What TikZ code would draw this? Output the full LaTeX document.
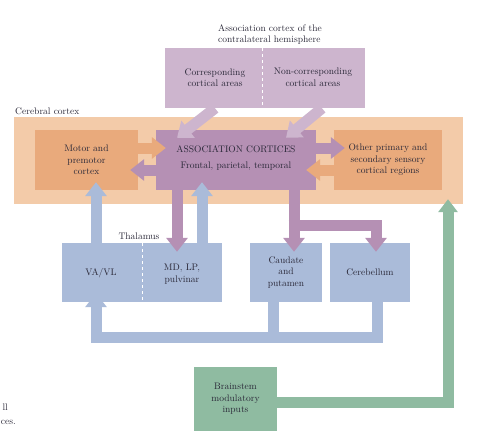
\documentclass[tikz,border=0pt]{standalone}
\usetikzlibrary{arrows.meta}
\definecolor{cortexbg}{HTML}{F3CBA9}
\definecolor{orangebox}{HTML}{E9AA7C}
\definecolor{assocbox}{HTML}{B590B4}
\definecolor{contrabox}{HTML}{CDB5CE}
\definecolor{bluebox}{HTML}{AABBD9}
\definecolor{greenbox}{HTML}{8FBBA1}
\definecolor{ink}{HTML}{2A2838}
\tikzset{
  box/.style={rectangle, inner sep=0pt, align=center, text=ink,
    font=\fontsize{9.5}{11.5}\selectfont},
  fat/.style={line width=11pt, -{Triangle[length=14pt,width=21pt]}},
  label/.style={text=ink, font=\fontsize{9.5}{11.5}\selectfont, inner sep=0pt}
}
\begin{document}
\begin{tikzpicture}[x=1pt,y=-1pt]
  \useasboundingbox (0,0) rectangle (480,431);

  \node[box, fill=cortexbg, minimum width=449pt, minimum height=87pt] (cortex) at (238.5,160.5) {};
  \node[label, anchor=south west] (cortexlbl) at (15,115) {Cerebral cortex};

  \node[box, fill=orangebox, minimum width=103pt, minimum height=60pt] (motor) at (86.5,160) {Motor and\\premotor\\cortex};
  \node[box, fill=assocbox, minimum width=160pt, minimum height=60pt] (assoc) at (236,160) {};
  \node[label] (assoctitle) at (236,149) {ASSOCIATION CORTICES};
  \node[label] (assocsub) at (236,166) {Frontal, parietal, temporal};
  \node[box, fill=orangebox, minimum width=108pt, minimum height=60pt] (other) at (388,160) {Other primary and\\secondary sensory\\cortical regions};

  \node[box, fill=contrabox, minimum width=200pt, minimum height=60pt] (contra) at (265,78) {};
  \draw[white, dashed, line width=0.8pt] (contra.north) ++(-3,0) -- ++(0,60);
  \node[label, align=center] (corr) at (215,77.5) {Corresponding\\cortical areas};
  \node[label, align=center] (noncorr) at (313,77.5) {Non-corresponding\\cortical areas};
  \node[label, align=left] (contralbl) at (270,34.5) {Association cortex of the\\contralateral hemisphere};

  \node[box, fill=bluebox, minimum width=160pt, minimum height=59pt] (thal) at (142,272.5) {};
  \draw[white, dashed, line width=0.8pt] (thal.north) -- (thal.south);
  \node[label] (vavl) at (101,273) {VA/VL};
  \node[label, align=center] (mdlp) at (182,274) {MD, LP,\\pulvinar};
  \node[label, anchor=south] (thallbl) at (139,240) {Thalamus};
  \node[box, fill=bluebox, minimum width=72pt, minimum height=59pt] (caudate) at (286,272.5) {Caudate\\and\\putamen};
  \node[box, fill=bluebox, minimum width=80pt, minimum height=59pt] (cereb) at (370,272.5) {Cerebellum};

  \node[box, fill=greenbox, minimum width=83pt, minimum height=64pt] (brainstem) at (235.5,399) {Brainstem\\modulatory\\inputs};

  \node[label, anchor=east] (capa) at (8,407) {ll};
  \node[label, anchor=east] (capb) at (16,422) {ces.};

  % cortex to cortex
  \draw[fat, orangebox] ([yshift=12pt]motor.east) -- ([yshift=12pt,xshift=10pt]assoc.west);
  \draw[fat, assocbox] ([yshift=-10pt]assoc.west) -- ([yshift=-10pt,xshift=-8pt]motor.east);
  \draw[fat, assocbox] ([yshift=12pt]assoc.east) -- ([yshift=12pt,xshift=11pt]other.west);
  \draw[fat, orangebox] ([yshift=-10pt]other.east -| other.west) -- ([yshift=-10pt,xshift=-10pt]assoc.east);

  % contralateral
  \draw[fat, contrabox] ([xshift=-50pt]contra.south) -- ([xshift=-59pt,yshift=-8pt]assoc.north);
  \draw[fat, contrabox] ([xshift=57pt]contra.south) -- ([xshift=50pt,yshift=-8pt]assoc.north);

  % thalamus up
  \draw[fat, bluebox] ([xshift=-46pt]thal.north) -- ([xshift=9.5pt,yshift=8pt]motor.south);
  \draw[fat, bluebox] ([xshift=60pt]thal.north) -- ([xshift=-34pt,yshift=8pt]assoc.south);

  % association down
  \draw[fat, assocbox] ([xshift=-59pt]assoc.south) -- ([xshift=35pt,yshift=-9pt]thal.north);
  \draw[fat, assocbox] ([xshift=58pt]assoc.south) -- ([xshift=8pt,yshift=-9pt]caudate.north);
  \coordinate (split) at (294,225);
  \draw[fat, assocbox, line join=miter] ([xshift=-5.5pt]split) -| ([xshift=6pt,yshift=-9pt]cereb.north);

  % basal ganglia and cerebellum to VA/VL
  \coordinate (loop) at (96,337.5);
  \draw[fat, bluebox, line join=miter] ([xshift=7pt]cereb.south) |- (loop) -- ([xshift=-46pt,yshift=9pt]thal.south);
  \draw[bluebox, line width=11pt] ([xshift=-13pt]caudate.south) -- ([xshift=-13pt]caudate.south |- loop);

  % brainstem
  \draw[fat, greenbox, line join=miter, -{Triangle[length=13pt,width=19pt]}] ([yshift=-3pt]brainstem.east) -| ([xshift=209.5pt,yshift=5pt]cortex.south);
\end{tikzpicture}
\end{document}
